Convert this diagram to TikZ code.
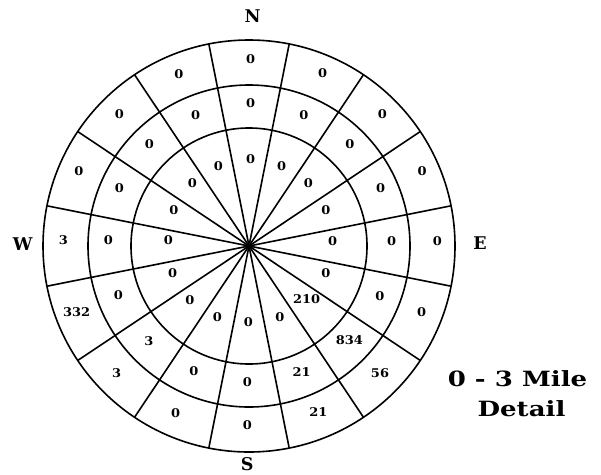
\documentclass[tikz,border=0pt]{standalone}
\usepackage{fontspec}
\setmainfont{DejaVu Serif}
\begin{document}
\begin{tikzpicture}[x=1pt,y=-1pt,line width=1.6pt,
  num/.style={font=\bfseries\fontsize{12}{12}\selectfont,inner sep=0pt,xscale=1.08},
  dirlbl/.style={font=\bfseries\fontsize{17.5}{17.5}\selectfont,inner sep=0pt},
  title/.style={font=\bfseries\fontsize{21}{24}\selectfont,inner sep=0pt,align=center,xscale=1.24}]
\useasboundingbox (0,0) rectangle (601,474);
\coordinate (c) at (249,246);
\draw (c) circle[radius=206];
\draw (c) circle[radius=161];
\draw (c) circle[radius=118];
\foreach \a in {0,...,15} \draw (c) -- ++({11.25+22.5*\a}:206);
\fill (c) circle[radius=3];
% labels: outer, middle, inner
\node[num] (n1) at (250.7,59.3) {0};
\node[num] (n2) at (250.7,103.3) {0};
\node[num] (n3) at (250.7,159.3) {0};
\node[num] (nne1) at (322.7,73.3) {0};
\node[num] (nne2) at (304,115) {0};
\node[num] (nne3) at (281.7,165.7) {0};
\node[num] (ne1) at (382.3,114.3) {0};
\node[num] (ne2) at (350,144.3) {0};
\node[num] (ne3) at (308.3,183.3) {0};
\node[num] (ene1) at (422,171) {0};
\node[num] (ene2) at (380.7,188.3) {0};
\node[num] (ene3) at (326,210) {0};
\node[num] (e1) at (437.3,240.7) {0};
\node[num] (e2) at (391.7,240.7) {0};
\node[num] (e3) at (332.7,240.7) {0};
\node[num] (ese1) at (421.7,311.7) {0};
\node[num] (ese2) at (380,296) {0};
\node[num] (ese3) at (326,273.3) {0};
\node[num] (se1) at (380,373.3) {56};
\node[num] (se2) at (349.3,340) {834};
\node[num] (se3) at (306.7,299.3) {210};
\node[num] (sse1) at (318.3,412.3) {21};
\node[num] (sse2) at (301.7,371.7) {21};
\node[num] (sse3) at (280,317.3) {0};
\node[num] (s1) at (247.3,425) {0};
\node[num] (s2) at (247.3,381.7) {0};
\node[num] (s3) at (248.3,321.7) {0};
\node[num] (ssw1) at (175.7,412.7) {0};
\node[num] (ssw2) at (194,371) {0};
\node[num] (ssw3) at (217.3,317.3) {0};
\node[num] (sw1) at (116.7,372.7) {3};
\node[num] (sw2) at (149,340.7) {3};
\node[num] (sw3) at (190,300) {0};
\node[num] (wsw1) at (76.7,311.7) {332};
\node[num] (wsw2) at (118.3,295) {0};
\node[num] (wsw3) at (172.7,273.3) {0};
\node[num] (w1) at (63.3,240) {3};
\node[num] (w2) at (108.3,240) {0};
\node[num] (w3) at (168.3,240) {0};
\node[num] (wnw1) at (79,171) {0};
\node[num] (wnw2) at (119.3,188.3) {0};
\node[num] (wnw3) at (174,210) {0};
\node[num] (nw1) at (119.3,114.3) {0};
\node[num] (nw2) at (149.3,144) {0};
\node[num] (nw3) at (192.3,183.3) {0};
\node[num] (nnw1) at (179,74) {0};
\node[num] (nnw2) at (195.7,115) {0};
\node[num] (nnw3) at (218.3,165.7) {0};
% compass
\node[dirlbl] (N) at (252.7,16) {N};
\node[dirlbl] (S) at (247.3,464) {S};
\node[dirlbl] (W) at (22.7,244) {W};
\node[dirlbl] (E) at (480,242.7) {E};
\node[title] (t1) at (517.5,379) {0 - 3 Mile};
\node[title] (t2) at (521.5,409) {Detail};
\end{tikzpicture}
\end{document}
